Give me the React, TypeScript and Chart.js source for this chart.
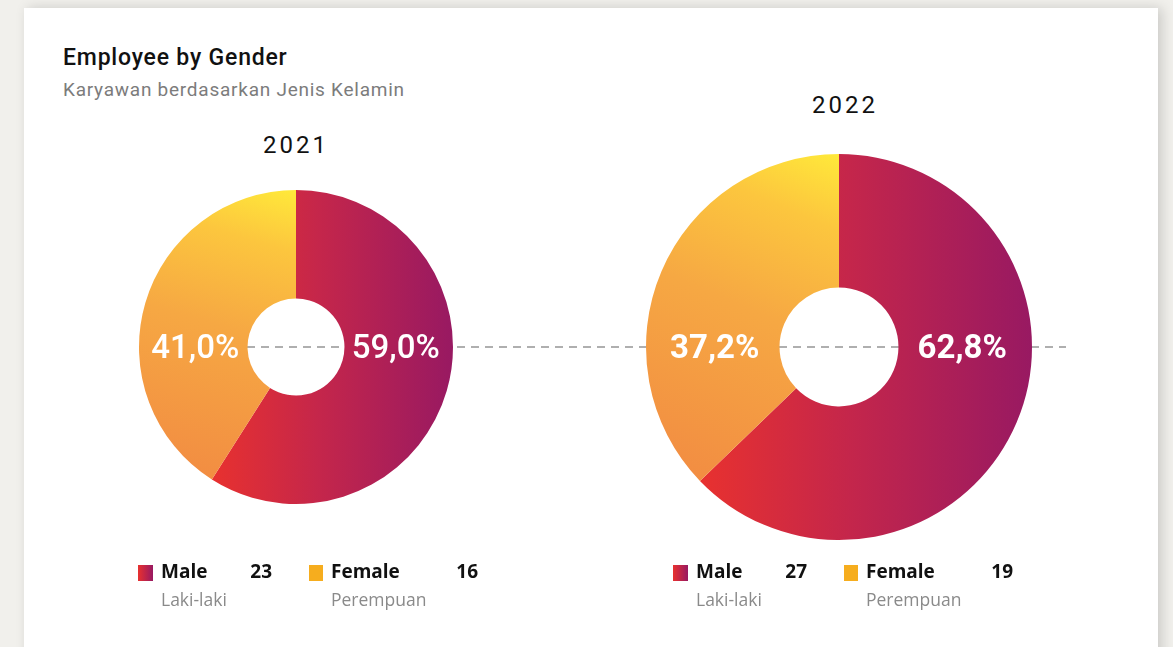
import React, { useEffect, useRef } from 'react';
import { Chart, registerables } from 'chart.js';

Chart.register(...registerables);

// ---------- data ----------
const years = ['2021', '2022'];
const genderLabels = ['Male', 'Female'];
const genderLabelsLocal = ['Laki-laki', 'Perempuan'];
const malePercent = [59.0, 62.8];
const femalePercent = [41.0, 37.2];
const maleCount = [23, 27];
const femaleCount = [16, 19];

const titleText = 'Employee by Gender';
const subtitleText = 'Karyawan berdasarkan Jenis Kelamin';

// ---------- styles / layout ----------
const MALE_STOPS: [number, string][] = [[0, '#e8312f'], [0.45, '#c4264b'], [1, '#981962']];
const FEMALE_STOPS: [number, string][] = [[0, '#f28d42'], [0.5, '#f6a843'], [0.8, '#fcc63e'], [1, '#ffe93a']];
const FEMALE_SWATCH = '#f6ad1e';

const layouts = [
  { cx: 296, cy: 347, r: 157, cut: 50, yearTop: 133, yearDx: 0, labelWeight: 500, legendX: 138 },
  { cx: 839, cy: 347, r: 193, cut: 61, yearTop: 93, yearDx: 6, labelWeight: 700, legendX: 673 },
];

const fmtPct = (v: number) => v.toFixed(1).replace('.', ',') + '%';

const pctLabelPlugin = {
  id: 'pctLabels',
  afterDatasetsDraw(chart: any, _args: any, opts: any) {
    const meta = chart.getDatasetMeta(0);
    const arc = meta.data[0];
    if (!arc) return;
    const { x, y, innerRadius, outerRadius } = arc.getProps(['x', 'y', 'innerRadius', 'outerRadius'], true);
    const mid = (innerRadius + outerRadius) / 2;
    const vals = chart.data.datasets[0].data as number[];
    const ctx = chart.ctx;
    ctx.save();
    ctx.fillStyle = '#ffffff';
    ctx.font = `${opts.weight || 500} 33px Roboto`;
    ctx.textAlign = 'center';
    ctx.textBaseline = 'alphabetic';
    ctx.fillText(fmtPct(vals[0]), x + mid - 3, y + 11);
    ctx.fillText(fmtPct(vals[1]), x - mid + 2, y + 11);
    ctx.restore();
  },
};

function Doughnut({ idx }: { idx: number }) {
  const ref = useRef<HTMLCanvasElement>(null);
  const L = layouts[idx];
  const size = L.r * 2 + 10;
  useEffect(() => {
    if (!ref.current) return;
    const data = [malePercent[idx], femalePercent[idx]];
    const chart = new Chart(ref.current, {
      type: 'doughnut',
      data: {
        labels: genderLabels,
        datasets: [
          {
            data,
            borderWidth: 0,
            backgroundColor: (c: any) => {
              const ch = c.chart;
              const area = ch.chartArea;
              const isMale = c.dataIndex === 0;
              if (!area) return isMale ? '#c4264b' : '#f6a843';
              const cx = (area.left + area.right) / 2;
              const cy = (area.top + area.bottom) / 2;
              const R = L.r;
              const vals = ch.data.datasets[0].data as number[];
              const f = vals[0] / (vals[0] + vals[1]);
              const th = f * Math.PI * 2;
              const bx = cx + R * Math.sin(th);
              const by = cy - R * Math.cos(th);
              const g2d = ch.ctx;
              let g;
              if (isMale) {
                g = g2d.createLinearGradient(bx, 0, cx + R, 0);
                MALE_STOPS.forEach(([o, col]) => g.addColorStop(o, col));
              } else {
                g = g2d.createLinearGradient(bx, by, cx, cy - R);
                FEMALE_STOPS.forEach(([o, col]) => g.addColorStop(o, col));
              }
              return g;
            },
          },
        ],
      },
      options: {
        responsive: false,
        animation: false,
        events: [],
        radius: L.r,
        cutout: L.cut,
        layout: { padding: 0 },
        plugins: {
          legend: { display: false },
          tooltip: { enabled: false },
          pctLabels: { weight: L.labelWeight },
        } as any,
      },
      plugins: [pctLabelPlugin],
    });
    return () => chart.destroy();
  }, [idx]);
  return (
    <canvas
      ref={ref}
      width={size}
      height={size}
      style={{ position: 'absolute', left: L.cx - size / 2, top: L.cy - size / 2, width: size, height: size }}
    />
  );
}

function DashedLine() {
  const ref = useRef<HTMLCanvasElement>(null);
  useEffect(() => {
    const c = ref.current;
    if (!c) return;
    const ctx = c.getContext('2d');
    if (!ctx) return;
    ctx.clearRect(0, 0, c.width, c.height);
    ctx.strokeStyle = '#959595';
    ctx.lineWidth = 1.5;
    ctx.setLineDash([8, 6]);
    ctx.beginPath();
    ctx.moveTo(layouts[0].cx - layouts[0].cut + 1, layouts[0].cy);
    ctx.lineTo(1066, layouts[1].cy);
    ctx.stroke();
  }, []);
  return <canvas ref={ref} width={1173} height={647} style={{ position: 'absolute', left: 0, top: 0 }} />;
}

function Legend({ idx }: { idx: number }) {
  const x = layouts[idx].legendX;
  const font = '"Open Sans", sans-serif';
  const main: React.CSSProperties = { position: 'absolute', fontFamily: font, fontWeight: 700, fontSize: 19, lineHeight: '19px', color: '#111', whiteSpace: 'nowrap' };
  const sub: React.CSSProperties = { position: 'absolute', fontFamily: font, fontWeight: 400, fontSize: 17.5, lineHeight: '18px', color: '#8a8a8a', whiteSpace: 'nowrap' };
  return (
    <>
      <div style={{ position: 'absolute', left: x, top: 565, width: 15, height: 16, background: `linear-gradient(90deg, ${MALE_STOPS[0][1]}, ${MALE_STOPS[2][1]})` }} />
      <div style={{ ...main, left: x + 23, top: 562 }}>{genderLabels[0]}</div>
      <div style={{ ...main, left: x + 84, width: 50, textAlign: 'right', top: 562 }}>{maleCount[idx]}</div>
      <div style={{ ...sub, left: x + 23, top: 590 }}>{genderLabelsLocal[0]}</div>
      <div style={{ position: 'absolute', left: x + 171, top: 565, width: 14, height: 16, background: FEMALE_SWATCH }} />
      <div style={{ ...main, left: x + 193, top: 562 }}>{genderLabels[1]}</div>
      <div style={{ ...main, left: x + 290, width: 50, textAlign: 'right', top: 562 }}>{femaleCount[idx]}</div>
      <div style={{ ...sub, left: x + 193, top: 590 }}>{genderLabelsLocal[1]}</div>
    </>
  );
}

export default function App() {
  return (
    <div style={{ position: 'fixed', left: 0, top: 0, width: 1173, height: 647, background: '#f1f0ec', overflow: 'hidden' }}>
      <div style={{ position: 'absolute', left: 24, top: 8, width: 1134, height: 700, background: '#ffffff', boxShadow: '4px 0 12px rgba(0,0,0,0.16)' }} />
      <div style={{ position: 'absolute', left: 63, top: 46, fontFamily: 'Roboto, sans-serif', fontWeight: 500, fontSize: 23, lineHeight: '23px', letterSpacing: 0.8, color: '#111', whiteSpace: 'nowrap' }}>{titleText}</div>
      <div style={{ position: 'absolute', left: 63, top: 80, fontFamily: 'Roboto, sans-serif', fontWeight: 400, fontSize: 19, lineHeight: '19px', color: '#7c7c7c', letterSpacing: 0.75, whiteSpace: 'nowrap' }}>{subtitleText}</div>
      {years.map((y, i) => (
        <div key={y} style={{ position: 'absolute', left: layouts[i].cx + layouts[i].yearDx - 60, width: 120, textAlign: 'center', top: layouts[i].yearTop, fontFamily: 'Roboto, sans-serif', fontWeight: 400, fontSize: 24, lineHeight: '24px', letterSpacing: 3, color: '#111' }}>{y}</div>
      ))}
      <DashedLine />
      <Doughnut idx={0} />
      <Doughnut idx={1} />
      <Legend idx={0} />
      <Legend idx={1} />
    </div>
  );
}
